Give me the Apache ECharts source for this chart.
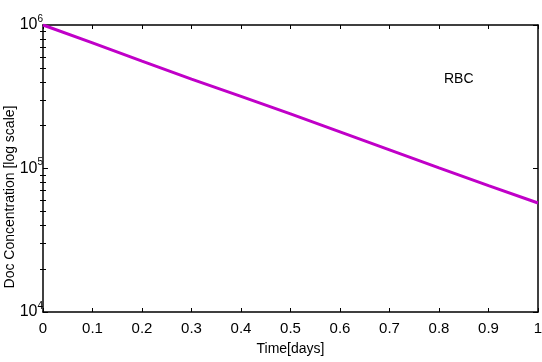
<!DOCTYPE html>
<html><head><meta charset="utf-8">
<script src="https://cdn.jsdelivr.net/npm/echarts@6/dist/echarts.min.js"></script>
<style>html,body{margin:0;padding:0;background:#fff}#c{width:542px;height:362px}</style>
</head><body><div id="c"></div>
<script>
var timeDays = [0, 0.1, 0.2, 0.3, 0.4, 0.5, 0.6, 0.7, 0.8, 0.9, 1.0];
var docConc = [1000000, 750000, 560000, 420000, 318000, 240000, 180000, 135000, 101000, 76000, 57500];
var xTicks = [0, 0.1, 0.2, 0.3, 0.4, 0.5, 0.6, 0.7, 0.8, 0.9, 1];
var yMajor = [10000, 100000, 1000000];
var yMinor = [20000,30000,40000,50000,60000,70000,80000,90000,200000,300000,400000,500000,600000,700000,800000,900000];
var seriesName = 'RBC';

var FONT = '"Liberation Sans", Arial, sans-serif';
var chart = echarts.init(document.getElementById('c'));
function expLabel(v){ var e = Math.round(Math.log10(v)); return '{b|10}{s|' + e + '}'; }
var baseY = {type:'log', logBase:10, min:10000, max:1000000, gridIndex:0};
chart.setOption({
  animation:false,
  backgroundColor:'#fff',
  title:{text:seriesName, left:439, top:67, textStyle:{fontFamily:FONT, fontSize:14, fontWeight:'normal', color:'#000'}},
  grid:{left:43, right:4, top:25, bottom:50, outerBoundsMode:'none', containLabel:false},
  graphic:[{type:'text', x:10, y:197, rotation:Math.PI/2,
    style:{text:'Doc Concentration [log scale]', fontFamily:FONT, fontSize:14, fill:'#000', align:'center', verticalAlign:'middle'}}],
  xAxis:[
    {type:'value', min:0, max:1, interval:0.1, position:'bottom',
     name:'Time[days]', nameLocation:'middle', nameGap:30,
     nameTextStyle:{fontFamily:FONT, fontSize:14, color:'#000'},
     axisLine:{show:true, onZero:false, lineStyle:{color:'#000', width:1.5}},
     axisTick:{show:true, inside:true, length:4, lineStyle:{color:'#000'}},
     axisLabel:{fontFamily:FONT, fontSize:15, color:'#000', margin:9,
       formatter:function(v){ var r = Math.round(v*10)/10; return xTicks.indexOf(r) >= 0 ? String(r) : ''; }},
     splitLine:{show:false}},
    {type:'value', min:0, max:1, interval:0.1, position:'top',
     axisLine:{show:true, onZero:false, lineStyle:{color:'#000', width:1.5}},
     axisTick:{show:true, inside:true, length:4, lineStyle:{color:'#000'}},
     axisLabel:{show:false}, splitLine:{show:false}}
  ],
  yAxis:[
    Object.assign({}, baseY, {position:'left',
     axisLine:{show:true, onZero:false, lineStyle:{color:'#000', width:1.5}},
     axisTick:{show:true, inside:true, length:5, customValues:yMajor, lineStyle:{color:'#000'}},
     axisLabel:{show:true, customValues:yMajor, margin:0, formatter:expLabel,
       rich:{b:{fontFamily:FONT, fontSize:16, color:'#000'}, s:{fontFamily:FONT, fontSize:10, color:'#000', verticalAlign:'top', padding:[0,0,12,0]}}},
     splitLine:{show:false}}),
    Object.assign({}, baseY, {position:'left',
     axisLine:{show:false},
     axisTick:{show:true, inside:true, length:3, customValues:yMinor, lineStyle:{color:'#000'}},
     axisLabel:{show:false}, splitLine:{show:false}}),
    Object.assign({}, baseY, {position:'right',
     axisLine:{show:true, onZero:false, lineStyle:{color:'#000', width:1.5}},
     axisTick:{show:true, inside:true, length:5, customValues:yMajor, lineStyle:{color:'#000'}},
     axisLabel:{show:false}, splitLine:{show:false}}),
    Object.assign({}, baseY, {position:'right',
     axisLine:{show:false},
     axisTick:{show:true, inside:true, length:3, customValues:yMinor, lineStyle:{color:'#000'}},
     axisLabel:{show:false}, splitLine:{show:false}})
  ],
  series:[{
    name:seriesName, type:'line', xAxisIndex:0, yAxisIndex:0,
    data: timeDays.map(function(t,i){ return [t, docConc[i]]; }),
    showSymbol:false, symbol:'none', lineStyle:{color:'#c000c8', width:3}, z:5
  }]
});
</script></body></html>
